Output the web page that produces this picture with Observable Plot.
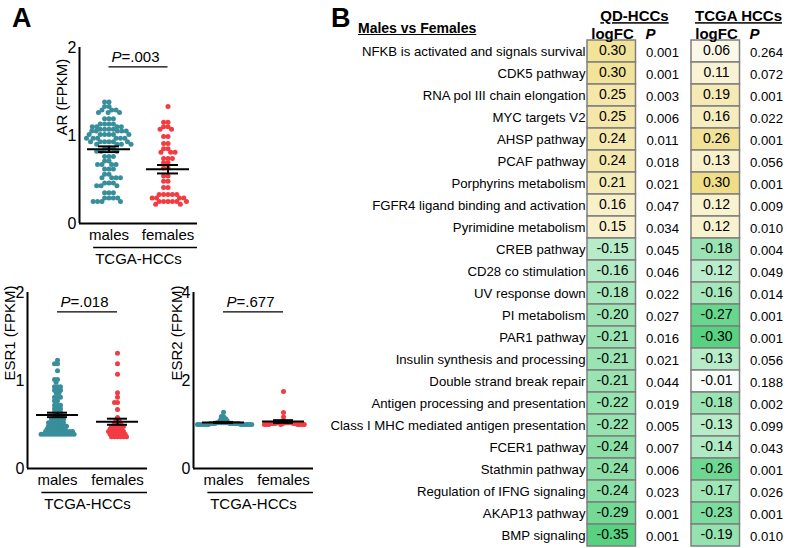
<!DOCTYPE html>
<html><head><meta charset="utf-8">
<script src="https://cdn.jsdelivr.net/npm/d3@7"></script>
<script src="https://cdn.jsdelivr.net/npm/@observablehq/plot@0.6"></script>
<style>
body{margin:0;width:788px;height:548px;overflow:hidden;background:#fff;}
#root{position:relative;width:788px;height:548px;font-family:"Liberation Sans",Arial,sans-serif;color:#000;}
.abs{position:absolute;}
.panel{position:absolute;font-weight:bold;font-size:27px;line-height:28px;}
.hdr{position:absolute;font-weight:bold;font-size:14px;line-height:16px;text-decoration:underline;white-space:nowrap;}
</style></head><body><div id="root"></div>
<script>
// ---------- Panel A data (FPKM values) ----------
const sexes = ["males", "females"];
const arMales = [1.38,1.38,1.33,1.33,1.29,1.29,1.29,1.26,1.26,1.26,1.19,1.19,1.19,1.13,1.13,1.13,1.13,
  1.10,1.10,1.10,1.10,1.07,1.07,1.07,1.07,1.05,1.05,1.05,1.05,1.05,1.01,1.01,1.01,1.01,1.01,1.01,
  0.97,0.97,0.97,0.97,0.97,0.97,0.93,0.93,0.93,0.93,0.93,0.93,0.90,0.90,0.90,0.90,0.85,0.85,0.85,
  0.82,0.82,0.82,0.76,0.76,0.76,0.71,0.71,0.67,0.67,0.67,0.67,0.62,0.62,0.62,0.56,0.56,
  0.52,0.52,0.52,0.52,0.46,0.46,0.46,0.43,0.43,0.43,0.35,0.35,0.35,0.29,0.29,0.29,0.29,0.25,0.25,0.25,0.25];
const arFemales = [1.33,1.15,1.15,1.10,1.10,1.07,1.07,0.99,0.99,0.91,0.91,0.85,0.85,0.81,0.81,0.81,
  0.74,0.74,0.74,0.69,0.69,0.63,0.63,0.54,0.54,0.48,0.48,0.41,0.41,0.33,0.33,0.33,0.33,0.33,
  0.29,0.29,0.29,0.29,0.25,0.25,0.25,0.25,0.25,0.25,0.22,0.22];
const esr1Males = [1.23,1.19,1.19,1.11,1.01,1.01,0.98,0.93,0.93,0.93,0.89,0.89,0.89,0.86,0.86,
  0.81,0.81,0.81,0.77,0.77,0.72,0.72,0.72,0.68,0.68,0.68,0.64,0.64,0.64,0.60,0.60,0.60,
  0.56,0.56,0.56,0.56,0.56,0.52,0.52,0.52,0.52,0.52,0.52,0.48,0.48,0.48,0.48,0.48,0.48,0.48,
  0.45,0.45,0.45,0.45,0.45,0.45,0.45,0.42,0.42,0.42,0.42,0.42,0.42,0.42,0.42,0.42,0.42,
  0.39,0.39,0.39,0.39,0.39,0.39,0.39,0.39,0.39,0.39,0.39,0.39];
const esr1Females = [1.31,1.19,1.07,0.86,0.81,0.75,0.75,0.67,0.58,0.55,0.55,0.52,0.52,0.52,
  0.48,0.48,0.48,0.48,0.48,0.45,0.45,0.45,0.45,0.45,0.42,0.42,0.42,0.42,0.42,0.42,
  0.39,0.39,0.39,0.39,0.39,0.39,0.36,0.36,0.36,0.36,0.36,0.36];
const esr2Males = [1.28,1.18,1.18,1.13,1.13,1.13,1.09,1.09,1.04,1.04,1.04,1.04,1.04,1.04,
  1.02,1.02,1.02,1.02,1.02,1.02,1.02,1.02,1.00,1.00,1.00,1.00,1.00,1.00,1.00,1.00,1.00,1.00,1.00,1.00];
const esr2Females = [1.75,1.27,1.17,1.08,1.06,1.04,1.04,1.04,1.04,1.04,1.04,
  1.02,1.02,1.02,1.02,1.02,1.02,1.00,1.00,1.00,1.00,1.00,1.00,1.00,1.00];

// ---------- Panel B data ----------
const pathways = ["NFKB is activated and signals survival","CDK5 pathway","RNA pol III chain elongation",
  "MYC targets V2","AHSP pathway","PCAF pathway","Porphyrins metabolism","FGFR4 ligand binding and activation",
  "Pyrimidine metabolism","CREB pathway","CD28 co stimulation","UV response down","PI metabolism",
  "PAR1 pathway","Insulin synthesis and processing","Double strand break repair",
  "Antigen processing and presentation","Class I MHC mediated antigen presentation","FCER1 pathway",
  "Stathmin pathway","Regulation of IFNG signaling","AKAP13 pathway","BMP signaling"];
const qdLogFC = [0.30,0.30,0.25,0.25,0.24,0.24,0.21,0.16,0.15,-0.15,-0.16,-0.18,-0.20,-0.21,-0.21,-0.21,-0.22,-0.22,-0.24,-0.24,-0.24,-0.29,-0.35];
const qdP = [0.001,0.001,0.003,0.006,0.011,0.018,0.021,0.047,0.034,0.045,0.046,0.022,0.027,0.016,0.021,0.044,0.019,0.005,0.007,0.006,0.023,0.001,0.001];
const tcgaLogFC = [0.06,0.11,0.19,0.16,0.26,0.13,0.30,0.12,0.12,-0.18,-0.12,-0.16,-0.27,-0.30,-0.13,-0.01,-0.18,-0.13,-0.14,-0.26,-0.17,-0.23,-0.19];
const tcgaP = [0.264,0.072,0.001,0.022,0.001,0.056,0.001,0.009,0.010,0.004,0.049,0.014,0.001,0.001,0.056,0.188,0.002,0.099,0.043,0.001,0.026,0.001,0.010];
const datasets = ["QD-HCCs", "TCGA HCCs"];
const columns = ["logFC", "P"];

const FONT = '"Liberation Sans", Arial, sans-serif';
const teal = "#388f9b", red = "#f23c41";
const root = document.getElementById("root");

function place(node, left, top) {
  node.classList.add("abs");
  node.style.left = left + "px";
  node.style.top = top + "px";
  root.appendChild(node);
  return node;
}
function italicP(svg) {
  svg.querySelectorAll("text").forEach(t => {
    const s = t.textContent;
    if (s.startsWith("P=") && t.children.length === 0) {
      t.textContent = "";
      const a = document.createElementNS("http://www.w3.org/2000/svg", "tspan");
      a.setAttribute("font-style", "italic"); a.textContent = "P";
      const b = document.createElementNS("http://www.w3.org/2000/svg", "tspan");
      b.textContent = s.slice(1);
      t.appendChild(a); t.appendChild(b);
    }
  });
}

function dotPanel(o) {
  const data = [...o.males.map(v => ({sex: "males", v})), ...o.females.map(v => ({sex: "females", v}))];
  const stats = sexes.map(s => {
    const vs = data.filter(d => d.sex === s).map(d => d.v);
    const m = d3.mean(vs), se = d3.deviation(vs) / Math.sqrt(vs.length);
    return {sex: s, mean: m, lo: m - se, hi: m + se};
  });
  const first = [{sex: "males"}];
  const chart = Plot.plot({
    width: o.width, height: o.height,
    marginLeft: o.ml, marginRight: o.mr, marginTop: o.mt, marginBottom: o.mb,
    style: {fontFamily: FONT, fontSize: "15px", background: "transparent", overflow: "visible"},
    fx: {domain: sexes, padding: 0},
    x: {domain: [0, 1], axis: null},
    y: {domain: [0, o.yMax]},
    color: {domain: sexes, range: [teal, red]},
    marks: [
      Plot.dot(data, Plot.dodgeX({anchor: "middle", r: o.dodgeR, padding: 0},
        {fx: "sex", y: "v", r: 2.5, fill: "sex"})),
      Plot.ruleY(stats, {fx: "sex", y: "mean", insetLeft: o.meanInset, insetRight: o.meanInset, strokeWidth: 2}),
      Plot.ruleY(stats, {fx: "sex", y: "lo", insetLeft: o.capInset, insetRight: o.capInset, strokeWidth: 2}),
      Plot.ruleY(stats, {fx: "sex", y: "hi", insetLeft: o.capInset, insetRight: o.capInset, strokeWidth: 2}),
      Plot.ruleX(stats, {fx: "sex", x: 0.5, y1: "lo", y2: "hi", strokeWidth: 2}),
      Plot.ruleY([0], {strokeWidth: 2}),
      Plot.ruleX(first, {fx: "sex", x: 0, y1: 0, y2: o.yMax, strokeWidth: 2}),
      Plot.axisY({ticks: o.yTicks, tickFormat: "d", tickSize: 0, tickPadding: 3, fontSize: 16, label: null}),
      Plot.axisFx({anchor: "bottom", tickSize: 0, tickPadding: 6, fontSize: 15, label: null}),
      Plot.text(first, {fx: "sex", text: () => o.yLabel, frameAnchor: "left", rotate: -90, dx: o.labelDx, fontSize: 15}),
      Plot.ruleY(first, {fx: "sex", y: o.yMax * 0.89, x1: 0.5, x2: 1.5, strokeWidth: 1.3}),
      Plot.text(first, {fx: "sex", x: 1, y: o.yMax * 0.945, dx: -3, text: () => o.pText, fontSize: 15}),
      Plot.ruleY(first, {fx: "sex", y: 0, dy: 24, x1: 0.24, x2: 2, strokeWidth: 1.3}),
      Plot.text(first, {fx: "sex", x: 1, y: 0, dy: 36, text: () => "TCGA-HCCs", fontSize: 15})
    ]
  });
  italicP(chart);
  return place(chart, o.left, o.top);
}

dotPanel({left: 0, top: 0, width: 205, height: 270, ml: 79, mr: 8, mt: 47, mb: 47,
  yMax: 2, yTicks: [0, 1, 2], yLabel: "AR (FPKM)", pText: "P=.003", labelDx: -17,
  males: arMales, females: arFemales, dodgeR: 2.2, meanInset: 8, capInset: 19});
dotPanel({left: 0, top: 270, width: 155, height: 278, ml: 27, mr: 8, mt: 22, mb: 80,
  yMax: 2, yTicks: [0, 1, 2], yLabel: "ESR1 (FPKM)", pText: "P=.018", labelDx: -17,
  males: esr1Males, females: esr1Females, dodgeR: 1.5, meanInset: 9, capInset: 20});
dotPanel({left: 166, top: 270, width: 155, height: 278, ml: 27, mr: 8, mt: 22, mb: 80,
  yMax: 4, yTicks: [0, 2, 4], yLabel: "ESR2 (FPKM)", pText: "P=.677", labelDx: -16,
  males: esr2Males, females: esr2Females, dodgeR: 1.1, meanInset: 9, capInset: 20});

// ---------- Panel B ----------
const rows = [];
pathways.forEach((p, i) => {
  rows.push({pathway: p, ds: datasets[0], fc: qdLogFC[i], p: qdP[i]});
  rows.push({pathway: p, ds: datasets[1], fc: tcgaLogFC[i], p: tcgaP[i]});
});
const maxAbs = {[datasets[0]]: d3.max(qdLogFC, Math.abs), [datasets[1]]: d3.max(tcgaLogFC, Math.abs)};
rows.forEach(r => r.scaled = r.fc / maxAbs[r.ds]);
const colHeads = datasets.flatMap(ds => columns.map(col => ({ds, col})));

const table = Plot.plot({
  width: 462, height: 548, marginLeft: 256, marginRight: 0, marginTop: 38, marginBottom: 0,
  style: {fontFamily: FONT, fontSize: "13px", background: "transparent", overflow: "visible"},
  fx: {domain: datasets, paddingInner: 0.038, paddingOuter: 0, axis: null},
  x: {domain: columns, padding: 0, axis: null},
  y: {domain: pathways, padding: 0},
  color: {type: "linear", domain: [-1, 0, 1], range: ["#56d280", "#ffffff", "#efde87"]},
  marks: [
    Plot.cell(rows, {fx: "ds", x: () => "logFC", y: "pathway", fill: "scaled", stroke: "#7f7f7f", strokeWidth: 1.5, insetRight: 1.5}),
    Plot.text(rows, {fx: "ds", x: () => "logFC", y: "pathway", text: d => d.fc.toFixed(2), fontSize: 14, dy: -1}),
    Plot.text(rows, {fx: "ds", x: () => "P", y: "pathway", text: d => d.p.toFixed(3), fontSize: 13.2, dy: 1}),
    Plot.axisY({tickSize: 0, tickPadding: 2, fontSize: 13.2, label: null}),
    Plot.text(colHeads.filter(d => d.col === "logFC"), {fx: "ds", x: "col", text: "col", frameAnchor: "top", dy: -10, fontWeight: "bold", fontSize: 15}),
    Plot.text(colHeads.filter(d => d.col === "P"), {fx: "ds", x: "col", text: "col", frameAnchor: "top", dy: -10, dx: -12, fontWeight: "bold", fontStyle: "italic", fontSize: 15}),
    Plot.text(datasets.map(ds => ({ds})), {fx: "ds", text: "ds", frameAnchor: "top", dy: -28, dx: -3, fontWeight: "bold", fontSize: 15})
  ]
});
table.querySelectorAll("text").forEach(t => {
  if (datasets.includes(t.textContent)) t.style.textDecoration = "underline";
});
place(table, 330, 0);

// panel letters and table title
const A = document.createElement("div"); A.className = "panel"; A.textContent = "A"; A.style.left = "12px"; A.style.top = "4px"; root.appendChild(A);
const B = document.createElement("div"); B.className = "panel"; B.textContent = "B"; B.style.left = "331px"; B.style.top = "4px"; root.appendChild(B);
const T = document.createElement("div"); T.className = "hdr"; T.textContent = "Males vs Females"; T.style.left = "358px"; T.style.top = "20px"; root.appendChild(T);
</script></body></html>
